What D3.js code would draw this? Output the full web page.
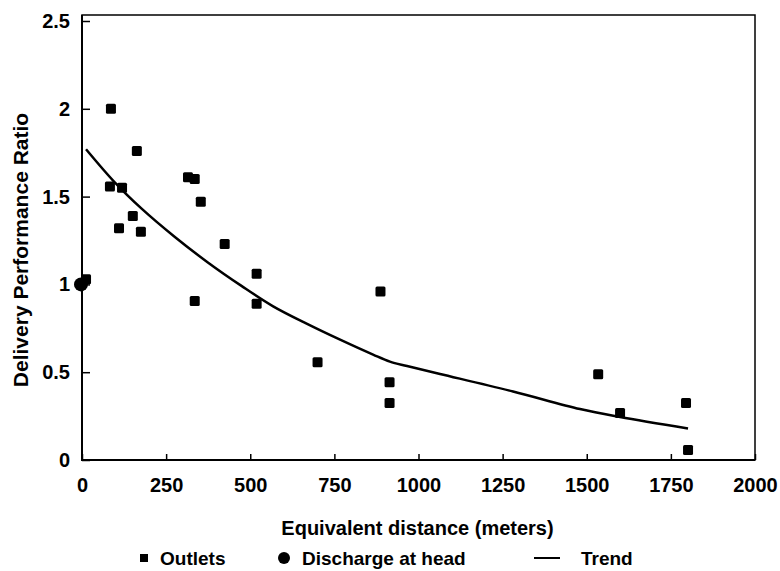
<!DOCTYPE html>
<html>
<head>
<meta charset="utf-8">
<script src="https://cdn.jsdelivr.net/npm/d3@7"></script>
<style>
  html, body { margin: 0; padding: 0; background: #fff; }
  svg text { font-family: "Liberation Sans", Arial, sans-serif; font-weight: bold; fill: #000; }
</style>
</head>
<body>
<svg id="chart" width="780" height="571"></svg>
<script>
// ---- data ----
const outletX = [12, 86, 83, 119, 163, 151, 110, 175, 315, 335, 353, 424, 335, 519, 519, 700, 887, 914, 914, 1534, 1599, 1795, 1801];
const outletY = [1.03, 2.00, 1.557, 1.55, 1.76, 1.39, 1.32, 1.30, 1.61, 1.60, 1.47, 1.23, 0.905, 1.06, 0.89, 0.557, 0.96, 0.443, 0.324, 0.489, 0.267, 0.324, 0.057];
const headX = [0];
const headY = [1.0];
const trendX = [12, 98, 178, 276, 374, 475, 568, 669, 767, 865, 915, 966, 1064, 1281, 1480, 1599, 1801];
const trendY = [1.77, 1.58, 1.43, 1.27, 1.125, 0.99, 0.875, 0.775, 0.685, 0.60, 0.56, 0.535, 0.49, 0.39, 0.29, 0.245, 0.18];
const xTicks = [0, 250, 500, 750, 1000, 1250, 1500, 1750, 2000];
const yTicks = [0, 0.5, 1, 1.5, 2, 2.5];
const yTickLabels = ["0", "0.5", "1", "1.5", "2", "2.5"];
const legendLabels = ["Outlets", "Discharge at head", "Trend"];

// ---- layout ----
const svg = d3.select("#chart");
const pLeft = 82, pRight = 755, pBottom = 460, pTop = 15;
const x = d3.scaleLinear().domain([0, 2000]).range([pLeft, pRight]);
const y = d3.scaleLinear().domain([0, 2.5]).range([pBottom, 21]);

// frame
svg.append("rect").attr("x", pLeft).attr("y", pTop).attr("width", pRight - pLeft).attr("height", pBottom - pTop)
  .attr("fill", "none").attr("stroke", "#000").attr("stroke-width", 1.5);
svg.append("line").attr("x1", pLeft).attr("x2", pLeft).attr("y1", pTop).attr("y2", pBottom + 1)
  .attr("stroke", "#000").attr("stroke-width", 2);
svg.append("line").attr("x1", pLeft - 1).attr("x2", pRight).attr("y1", pBottom).attr("y2", pBottom)
  .attr("stroke", "#000").attr("stroke-width", 2);

// x axis (ticks inward)
const xAxis = d3.axisBottom(x).tickValues(xTicks).tickSize(-6).tickPadding(18).tickFormat(d3.format("d"));
const gx = svg.append("g").attr("transform", `translate(0,${pBottom})`).call(xAxis);
gx.select(".domain").remove();
gx.selectAll(".tick line").attr("stroke", "#000").attr("stroke-width", 1.5);
gx.selectAll(".tick text").attr("font-size", 20).attr("dy", "0.7em");

// y axis (ticks inward)
const yAxis = d3.axisLeft(y).tickValues(yTicks).tickSize(-8).tickPadding(12)
  .tickFormat((d, i) => yTickLabels[i]);
const gy = svg.append("g").attr("transform", `translate(${pLeft},0)`).call(yAxis);
gy.select(".domain").remove();
gy.selectAll(".tick line").attr("stroke", "#000").attr("stroke-width", 1.5);
gy.selectAll(".tick text").attr("font-size", 20);

// axis titles
svg.append("text").attr("x", (pLeft + pRight) / 2 - 1).attr("y", 535).attr("text-anchor", "middle")
  .attr("font-size", 20).text("Equivalent distance (meters)");
svg.append("text").attr("transform", "translate(28,250) rotate(-90)").attr("text-anchor", "middle")
  .attr("font-size", 21).text("Delivery Performance Ratio");

// trend line
const trend = trendX.map((d, i) => [d, trendY[i]]);
svg.append("path").datum(trend)
  .attr("d", d3.line().x(d => x(d[0])).y(d => y(d[1])).curve(d3.curveCatmullRom))
  .attr("fill", "none").attr("stroke", "#000").attr("stroke-width", 2.5);

// outlets
const sq = 10;
svg.append("g").selectAll("rect").data(outletX.map((d, i) => [d, outletY[i]])).join("rect")
  .attr("x", d => x(d[0]) - sq / 2).attr("y", d => y(d[1]) - sq / 2)
  .attr("width", sq).attr("height", sq).attr("rx", 1.5).attr("fill", "#000");

// discharge at head
svg.append("g").selectAll("circle").data(headX.map((d, i) => [d, headY[i]])).join("circle")
  .attr("cx", d => x(d[0]) - 1).attr("cy", d => y(d[1])).attr("r", 7).attr("fill", "#000");

// legend
const ly = 558;
const leg = svg.append("g");
leg.append("rect").attr("x", 140).attr("y", ly - 4).attr("width", 8).attr("height", 8).attr("fill", "#000");
leg.append("text").attr("x", 160).attr("y", ly + 7).attr("font-size", 19).text(legendLabels[0]);
leg.append("circle").attr("cx", 284).attr("cy", ly).attr("r", 6).attr("fill", "#000");
leg.append("text").attr("x", 302).attr("y", ly + 7).attr("font-size", 19).text(legendLabels[1]);
leg.append("line").attr("x1", 534).attr("x2", 560).attr("y1", ly).attr("y2", ly).attr("stroke", "#000").attr("stroke-width", 2);
leg.append("text").attr("x", 581).attr("y", ly + 7).attr("font-size", 19).text(legendLabels[2]);
</script>
</body>
</html>
